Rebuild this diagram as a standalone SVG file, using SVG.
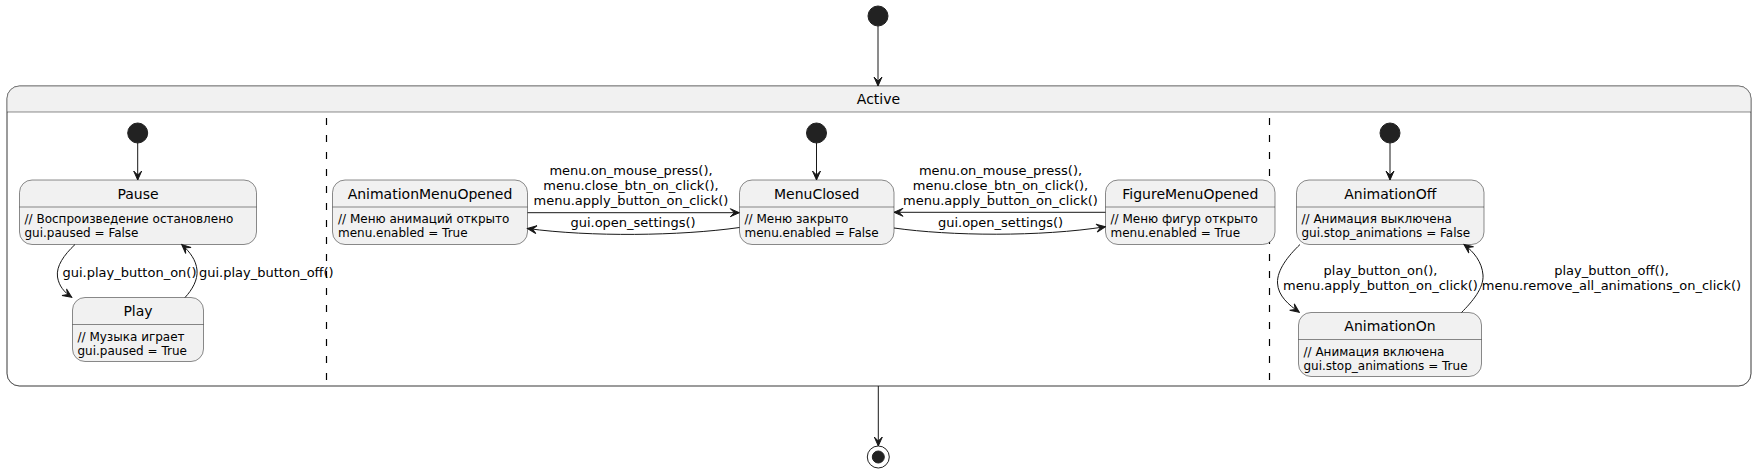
<svg xmlns="http://www.w3.org/2000/svg" width="1756" height="472" viewBox="0 0 1756 472">
<style>
text{font-family:"DejaVu Sans","Noto Sans",sans-serif;fill:#000}
.t{font-size:14px;text-anchor:middle}
.b{font-size:12px}
.l{font-size:13px}
.lc{font-size:13px;text-anchor:middle}
.st{fill:#F1F1F1;stroke:#181818;stroke-width:0.5}
.dv{stroke:#181818;stroke-width:0.5}
.ini{fill:#222222;stroke:#222222}
.e{fill:none;stroke:#181818;stroke-width:1;marker-end:url(#ah)}
.sep{stroke:#000000;stroke-width:1.2;stroke-dasharray:7,10}
</style>
<defs>
<marker id="ah" viewBox="-10 -5 11 10" markerWidth="11" markerHeight="10" refX="0" refY="0" orient="auto" markerUnits="userSpaceOnUse">
<path d="M0,0 L-9,-4 L-5,0 L-9,4 Z" fill="#181818" stroke="#181818" stroke-width="1"/>
</marker>
</defs>

<g id="start"><circle cx="878" cy="16" r="10" class="ini"/></g>

<g id="Active">
<rect x="7" y="86" width="1744" height="300" rx="12.5" fill="#FFFFFF" stroke="#181818" stroke-width="0.5"/>
<path d="M7,112 L7,98.5 A12.5,12.5 0 0 1 19.5,86 L1738.5,86 A12.5,12.5 0 0 1 1751,98.5 L1751,112 Z" fill="#F1F1F1"/>
<rect x="7" y="86" width="1744" height="300" rx="12.5" fill="none" stroke="#181818" stroke-width="0.5"/>
<line x1="7" y1="112" x2="1751" y2="112" class="dv"/>
<text x="878.5" y="103.5" class="t">Active</text>
<line x1="326.5" y1="118" x2="326.5" y2="390" class="sep"/>
<line x1="1269.5" y1="118" x2="1269.5" y2="390" class="sep"/>
</g>

<g id="start1"><circle cx="137.7" cy="133" r="10" class="ini"/></g>
<g id="Pause">
<rect x="19.5" y="180" width="237" height="64.5" rx="12.5" class="st"/>
<line x1="19.5" y1="207" x2="256.5" y2="207" class="dv"/>
<text x="138" y="198.5" class="t">Pause</text>
<text x="24.5" y="223" class="b">// Воспроизведение остановлено</text>
<text x="24.5" y="237" class="b">gui.paused = False</text>
</g>
<g id="Play">
<rect x="72.5" y="297.5" width="131" height="64" rx="12.5" class="st"/>
<line x1="72.5" y1="324.5" x2="203.5" y2="324.5" class="dv"/>
<text x="138" y="316" class="t">Play</text>
<text x="77.5" y="340.5" class="b">// Музыка играет</text>
<text x="77.5" y="354.5" class="b">gui.paused = True</text>
</g>

<g id="start2"><circle cx="816.5" cy="133" r="10" class="ini"/></g>
<g id="AnimationMenuOpened">
<rect x="332.5" y="180" width="195" height="64.5" rx="12.5" class="st"/>
<line x1="332.5" y1="207" x2="527.5" y2="207" class="dv"/>
<text x="430" y="198.5" class="t">AnimationMenuOpened</text>
<text x="338" y="223" class="b">// Меню анимаций открыто</text>
<text x="338" y="237" class="b">menu.enabled = True</text>
</g>
<g id="MenuClosed">
<rect x="739.5" y="180" width="154.5" height="64.5" rx="12.5" class="st"/>
<line x1="739.5" y1="207" x2="894" y2="207" class="dv"/>
<text x="816.7" y="198.5" class="t">MenuClosed</text>
<text x="744.5" y="223" class="b">// Меню закрыто</text>
<text x="744.5" y="237" class="b">menu.enabled = False</text>
</g>
<g id="FigureMenuOpened">
<rect x="1105.5" y="180" width="169.5" height="64.5" rx="12.5" class="st"/>
<line x1="1105.5" y1="207" x2="1275" y2="207" class="dv"/>
<text x="1190.3" y="198.5" class="t">FigureMenuOpened</text>
<text x="1110.5" y="223" class="b">// Меню фигур открыто</text>
<text x="1110.5" y="237" class="b">menu.enabled = True</text>
</g>

<g id="start3"><circle cx="1390" cy="133" r="10" class="ini"/></g>
<g id="AnimationOff">
<rect x="1296.5" y="180" width="187.5" height="64.5" rx="12.5" class="st"/>
<line x1="1296.5" y1="207" x2="1484" y2="207" class="dv"/>
<text x="1390.3" y="198.5" class="t">AnimationOff</text>
<text x="1301.5" y="223" class="b">// Анимация выключена</text>
<text x="1301.5" y="237" class="b">gui.stop_animations = False</text>
</g>
<g id="AnimationOn">
<rect x="1298.5" y="312.5" width="183" height="64" rx="12.5" class="st"/>
<line x1="1298.5" y1="339.5" x2="1481.5" y2="339.5" class="dv"/>
<text x="1390" y="331" class="t">AnimationOn</text>
<text x="1303.5" y="355.5" class="b">// Анимация включена</text>
<text x="1303.5" y="369.5" class="b">gui.stop_animations = True</text>
</g>

<g id="end">
<circle cx="878.3" cy="457" r="11" fill="none" stroke="#222222" stroke-width="1"/>
<circle cx="878.3" cy="457" r="6" class="ini"/>
</g>

<g id="connectors">
<path d="M878,26 L878,86" class="e"/>
<path d="M878.3,386 L878.3,446" class="e"/>
<path d="M137.7,143 L137.7,180" class="e"/>
<path d="M816.5,143 L816.5,180" class="e"/>
<path d="M1390,143 L1390,180" class="e"/>

<path d="M75,244.5 C64,255 56,266 57.5,277 C59,286 64,292 71.7,297.3" class="e"/>
<text x="62.5" y="277" class="l">gui.play_button_on()</text>
<path d="M185,297.5 C192,290 198,280 197,270 C196,260 190,252 181.7,244.5" class="e"/>
<text x="199" y="277" class="l">gui.play_button_off()</text>

<path d="M527.5,212.7 L739.3,212.7" class="e"/>
<text x="631" y="174.5" class="lc">menu.on_mouse_press(),</text>
<text x="631" y="189.5" class="lc">menu.close_btn_on_click(),</text>
<text x="631" y="204.5" class="lc">menu.apply_button_on_click()</text>
<path d="M739.5,227.5 C680,236 590,237 527.5,228.5" class="e"/>
<text x="633" y="227" class="lc">gui.open_settings()</text>

<path d="M1105.5,212.3 L894,212.3" class="e"/>
<text x="1000.5" y="174.5" class="lc">menu.on_mouse_press(),</text>
<text x="1000.5" y="189.5" class="lc">menu.close_btn_on_click(),</text>
<text x="1000.5" y="204.5" class="lc">menu.apply_button_on_click()</text>
<path d="M894,228 C950,236 1040,237 1105.5,226.7" class="e"/>
<text x="1000.5" y="227" class="lc">gui.open_settings()</text>

<path d="M1300,244.5 C1288,256 1277,270 1277.5,283 C1278,296 1289,305 1299.3,312.3" class="e"/>
<text x="1380.5" y="274.5" class="lc">play_button_on(),</text>
<text x="1380.5" y="289.5" class="lc">menu.apply_button_on_click()</text>
<path d="M1461.5,312.5 C1472,302 1484,288 1483,275 C1482,262 1474,252 1464,244.5" class="e"/>
<text x="1611.5" y="274.5" class="lc">play_button_off(),</text>
<text x="1611.5" y="289.5" class="lc">menu.remove_all_animations_on_click()</text>
</g>
</svg>
